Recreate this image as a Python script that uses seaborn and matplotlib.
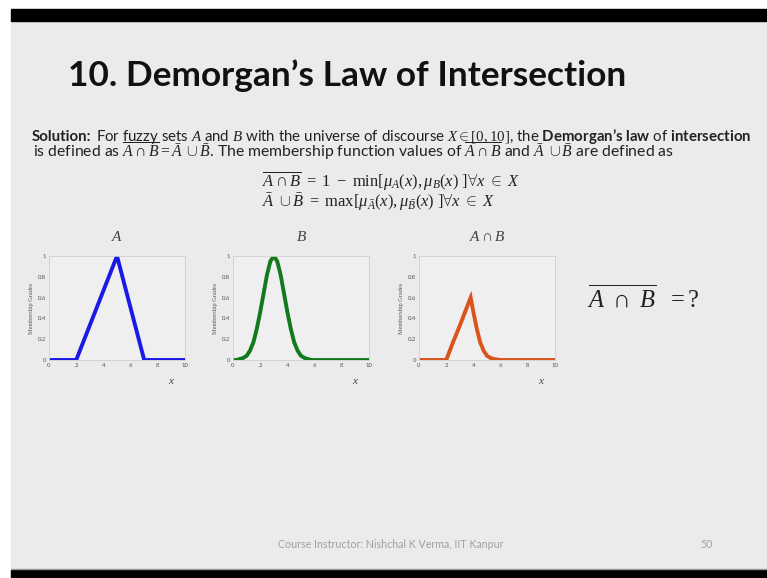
import matplotlib
matplotlib.use("Agg")
import matplotlib.pyplot as plt
from matplotlib.patches import Rectangle
import pandas as pd
import seaborn as sns

# ---- membership functions on X = [0, 10] ----
x_a = [0, 2, 5, 7, 10]
mu_a = [0, 0, 1, 0, 0]

x_b = [0, 0.25, 0.5, 0.75, 1, 1.25, 1.5, 1.75, 2, 2.25, 2.5, 2.75, 3,
       3.25, 3.5, 3.75, 4, 4.25, 4.5, 4.75, 5, 5.25, 5.5, 5.75, 6, 8, 10]
mu_b = [0.00, 0.00, 0.01, 0.02, 0.04, 0.09, 0.17, 0.30, 0.46, 0.64, 0.82, 0.95, 1.00,
        0.95, 0.82, 0.64, 0.46, 0.30, 0.17, 0.09, 0.04, 0.02, 0.01, 0.00, 0.00, 0.00, 0.00]

x_ab = [0, 2, 2.5, 3, 3.5, 3.8, 4, 4.25, 4.5, 4.75, 5, 5.25, 5.5, 6, 8, 10]
mu_ab = [0, 0, 0.17, 0.33, 0.50, 0.60, 0.46, 0.30, 0.17, 0.09, 0.04, 0.02, 0.01, 0, 0, 0]

panel_titles = [r"$A$", r"$B$", r"$A\cap B$"]
x_ticks = [0, 2, 4, 6, 8, 10]
y_ticks = [0, 0.2, 0.4, 0.6, 0.8, 1]
y_tick_labels = ["0", "0.2", "0.4", "0.6", "0.8", "1"]

sns.set_theme(style="white")
plt.rcParams["font.family"] = ["Lato", "DejaVu Sans"]
plt.rcParams["mathtext.fontset"] = "custom"
plt.rcParams["mathtext.rm"] = "Liberation Serif"
plt.rcParams["mathtext.it"] = "Liberation Serif:italic"
plt.rcParams["mathtext.bf"] = "Lato:bold"
plt.rcParams["mathtext.sf"] = "Lato"

W, H = 767, 578
fig = plt.figure(figsize=(W / 100, H / 100), dpi=100, facecolor="white")
renderer = fig.canvas.get_renderer()


def width_px(t):
    return t.get_window_extent(renderer).width


def fit_width(t, target):
    """Scale a text's font size so that it spans `target` pixels."""
    t.set_fontsize(t.get_fontsize() * target / width_px(t))


# slide canvas in pixel coordinates
bg = fig.add_axes([0, 0, 1, 1])
bg.set_xlim(0, W)
bg.set_ylim(H, 0)
bg.axis("off")
bg.add_patch(Rectangle((11, 21), W - 11, 549, color="#ebebeb", zorder=0))
bg.add_patch(Rectangle((11, 9), W - 11, 12, color="black", zorder=1))
bg.add_patch(Rectangle((11, 570), W - 11, 8, color="black", zorder=1))
bg.plot([11, W], [569, 569], color="#9a9a9a", lw=1, zorder=1)

title = bg.text(68, 86, "10. Demorgan’s Law of Intersection", fontsize=24,
                fontweight="bold", color="#111111", ha="left", va="baseline")
fit_width(title, 559)

# first body line: bold lead-in followed by the rest of the sentence
body = dict(fontsize=10, color="#222222", ha="left", va="baseline")
x0, line1_end = 32, 752
lead = bg.text(x0, 141, "Solution:", fontweight="bold", **body)
rest = bg.text(x0, 141,
               r"For fuzzy sets $A$ and $B$ with the universe of discourse "
               r"$X \in [0,10]$, the $\mathbf{Demorgan’s\ law}$ of $\mathbf{intersection}$",
               **body)
gap = 0.28
total = width_px(lead) + width_px(rest) + gap * 10 * 100 / 72
k = (line1_end - x0) / total
lead.set_fontsize(10 * k)
rest.set_fontsize(10 * k)
rest.set_x(x0 + width_px(lead) + gap * 10 * k * 100 / 72)

line2 = bg.text(33, 157,
                r"is defined as $\overline{A\cap B} = \bar{A}\ \cup \bar{B}$. The membership function "
                r"values of $\overline{A\cap B}$ and $\bar{A}\ \cup \bar{B}$ are defined as",
                **body)
fit_width(line2, 642)

eq = dict(fontsize=11, color="#222222", ha="left", va="baseline")
eq1 = bg.text(262, 187,
              r"$\overline{A\cap B}\ =\ 1\ -\ \mathrm{min}[\mu_{A}(x), \mu_{B}(x)\ ]\forall x\ \in\ X$",
              **eq)
fit_width(eq1, 258)
eq2 = bg.text(262, 207,
              r"$\bar{A}\ \cup \bar{B}\ =\ \mathrm{max}[\mu_{\bar{A}}(x), \mu_{\bar{B}}(x)\ ]\forall x\ \in\ X$",
              **eq)
eq2.set_fontsize(eq1.get_fontsize())

ask = bg.text(587, 307, r"$\overline{A\ \cap\ B}\ \ =?$", fontsize=16, color="#222222",
              ha="left", va="baseline")
fit_width(ask, 113)

foot = bg.text(278, 548, "Course Instructor: Nishchal K Verma, IIT Kanpur", fontsize=7,
               color="#a0a0a0", ha="left", va="baseline")
fit_width(foot, 225)
bg.text(700, 548, "50", fontsize=foot.get_fontsize(), color="#a0a0a0", ha="left", va="baseline")

# ---- the three membership plots ----
panels = [
    (49, x_a, mu_a, "#1a1ae6"),
    (233, x_b, mu_b, "#127a1c"),
    (419, x_ab, mu_ab, "#d9541a"),
]
for (left_px, xs, ys, col), ttl in zip(panels, panel_titles):
    ax = fig.add_axes([left_px / W, 1 - 360 / H, 136 / W, 104 / H])
    df = pd.DataFrame({"x": xs, "mu": ys})
    sns.lineplot(data=df, x="x", y="mu", ax=ax, color=col, linewidth=2.8,
                 solid_joinstyle="miter", solid_capstyle="butt")
    ax.set_facecolor("#efefef")
    ax.set_xlim(0, 10)
    ax.set_ylim(0, 1)
    ax.set_xticks(x_ticks)
    ax.set_xticklabels([str(t) for t in x_ticks])
    ax.set_yticks(y_ticks)
    ax.set_yticklabels(y_tick_labels)
    ax.tick_params(direction="in", length=2, width=0.4, color="#bdbdbd",
                   labelcolor="#555555", labelsize=4.3, pad=2)
    for sp in ax.spines.values():
        sp.set_color("#cfcfcf")
        sp.set_linewidth(0.6)
    ax.set_xlabel(r"$x$", fontsize=8, color="#444444")
    ax.xaxis.set_label_coords(0.9, -0.14)
    ax.set_ylabel("Membership Grades", fontsize=4.5, color="#555555",
                  family="Liberation Serif", labelpad=3)
    ax.set_title(ttl, fontsize=11, color="#444444", pad=11)

fig.savefig("out.png", dpi=100, facecolor="white")
